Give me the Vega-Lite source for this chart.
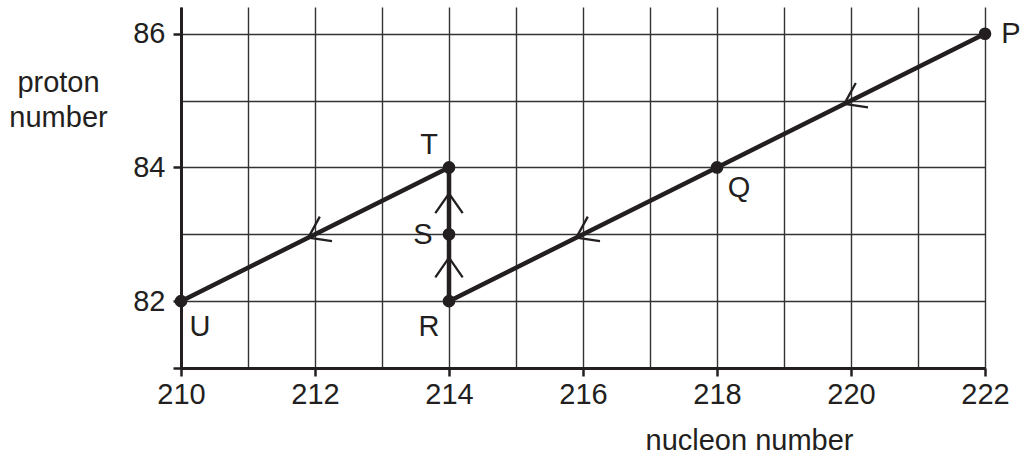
{
  "$schema": "https://vega.github.io/schema/vega-lite/v6.json",
  "width": 804,
  "height": 361,
  "autosize": {"type": "none"},
  "padding": {"left": 181, "top": 7, "right": 36, "bottom": 91},
  "background": "white",
  "config": {"view": {"stroke": null}, "font": "Liberation Sans"},
  "datasets": {
    "path": [
      {"step": 1, "label": "P", "nucleon": 222, "proton": 86},
      {"step": 2, "label": "Q", "nucleon": 218, "proton": 84},
      {"step": 3, "label": "R", "nucleon": 214, "proton": 82},
      {"step": 4, "label": "S", "nucleon": 214, "proton": 83},
      {"step": 5, "label": "T", "nucleon": 214, "proton": 84},
      {"step": 6, "label": "U", "nucleon": 210, "proton": 82}
    ],
    "diag": [
      {"nucleon": 219.9, "proton": 84.95},
      {"nucleon": 215.9, "proton": 82.95},
      {"nucleon": 211.9, "proton": 82.95}
    ],
    "up": [
      {"nucleon": 214, "proton": 82.65},
      {"nucleon": 214, "proton": 83.61}
    ]
  },
  "layer": [
    {
      "data": {"name": "path"},
      "mark": {"type": "line", "color": "#231f20", "strokeWidth": 4.5, "strokeJoin": "round"},
      "encoding": {
        "x": {
          "field": "nucleon", "type": "quantitative",
          "scale": {"domain": [210, 222], "nice": false, "zero": false},
          "axis": {
            "values": [210, 211, 212, 213, 214, 215, 216, 217, 218, 219, 220, 221, 222],
            "format": "d",
            "title": "nucleon number",
            "labelExpr": "datum.value % 2 === 0 ? datum.label : ''",
            "labelFlush": false,
            "labelOverlap": false,
            "grid": true,
            "gridColor": "#333333",
            "gridWidth": 1.4,
            "domainColor": "#231f20",
            "domainWidth": 3,
            "tickColor": {"condition": {"test": "datum.value % 2 === 0", "value": "#231f20"}, "value": "transparent"},
            "tickSize": 8,
            "tickWidth": 2.5,
            "labelFontSize": 29,
            "labelFont": "Liberation Sans",
            "labelColor": "#231f20",
            "labelPadding": 4,
            "titleFont": "Liberation Sans",
            "titleFontSize": 29,
            "titleFontWeight": "normal",
            "titleColor": "#231f20",
            "titleX": 568,
            "titleY": 72,
            "titleAlign": "center",
            "titleBaseline": "middle"
          }
        },
        "y": {
          "field": "proton", "type": "quantitative",
          "scale": {"domain": [81, 86.4], "nice": false, "zero": false},
          "axis": {
            "values": [81, 82, 83, 84, 85, 86],
            "format": "d",
            "title": ["proton", "number"],
            "labelExpr": "datum.value % 2 === 0 ? datum.label : ''",
            "labelFlush": false,
            "labelOverlap": false,
            "grid": true,
            "gridColor": "#333333",
            "gridWidth": 1.4,
            "domainColor": "#231f20",
            "domainWidth": 3,
            "tickColor": {"condition": {"test": "datum.value === 83 || datum.value === 85", "value": "transparent"}, "value": "#231f20"},
            "tickSize": 8,
            "tickWidth": 2.5,
            "labelFontSize": 29,
            "labelFont": "Liberation Sans",
            "labelColor": "#231f20",
            "labelPadding": 8,
            "titleFont": "Liberation Sans",
            "titleFontSize": 29,
            "titleFontWeight": "normal",
            "titleColor": "#231f20",
            "titleAngle": 0,
            "titleX": -123,
            "titleY": 75,
            "titleAlign": "center",
            "titleBaseline": "middle",
            "titleLineHeight": 35
          }
        },
        "order": {"field": "step", "type": "quantitative"}
      }
    },
    {
      "data": {"name": "path"},
      "mark": {"type": "point", "shape": "circle", "filled": true, "size": 160, "color": "#231f20", "opacity": 1},
      "encoding": {
        "x": {"field": "nucleon", "type": "quantitative"},
        "y": {"field": "proton", "type": "quantitative"}
      }
    },
    {
      "data": {"name": "diag"},
      "mark": {"type": "point", "shape": "M 0.82 -0.57 L 0 0 L 0.82 0.57", "size": 2300, "filled": false, "color": "#231f20", "strokeWidth": 2.3, "opacity": 1, "angle": -26.5},
      "encoding": {
        "x": {"field": "nucleon", "type": "quantitative"},
        "y": {"field": "proton", "type": "quantitative"}
      }
    },
    {
      "data": {"name": "up"},
      "mark": {"type": "point", "shape": "M 0.82 -0.57 L 0 0 L 0.82 0.57", "size": 2300, "filled": false, "color": "#231f20", "strokeWidth": 2.3, "opacity": 1, "angle": 90},
      "encoding": {
        "x": {"field": "nucleon", "type": "quantitative"},
        "y": {"field": "proton", "type": "quantitative"}
      }
    },
    {
      "data": {"name": "path"},
      "transform": [{"filter": "datum.label === 'P'"}],
      "mark": {"type": "text", "fontSize": 29, "color": "#231f20", "align": "center", "baseline": "middle", "dx": 26, "dy": 0},
      "encoding": {"x": {"field": "nucleon", "type": "quantitative"}, "y": {"field": "proton", "type": "quantitative"}, "text": {"field": "label"}}
    },
    {
      "data": {"name": "path"},
      "transform": [{"filter": "datum.label === 'Q'"}],
      "mark": {"type": "text", "fontSize": 29, "color": "#231f20", "align": "center", "baseline": "middle", "dx": 22, "dy": 21},
      "encoding": {"x": {"field": "nucleon", "type": "quantitative"}, "y": {"field": "proton", "type": "quantitative"}, "text": {"field": "label"}}
    },
    {
      "data": {"name": "path"},
      "transform": [{"filter": "datum.label === 'U'"}],
      "mark": {"type": "text", "fontSize": 29, "color": "#231f20", "align": "center", "baseline": "middle", "dx": 19, "dy": 26},
      "encoding": {"x": {"field": "nucleon", "type": "quantitative"}, "y": {"field": "proton", "type": "quantitative"}, "text": {"field": "label"}}
    },
    {
      "data": {"name": "path"},
      "transform": [{"filter": "datum.label === 'R'"}],
      "mark": {"type": "text", "fontSize": 29, "color": "#231f20", "align": "center", "baseline": "middle", "dx": -20, "dy": 26},
      "encoding": {"x": {"field": "nucleon", "type": "quantitative"}, "y": {"field": "proton", "type": "quantitative"}, "text": {"field": "label"}}
    },
    {
      "data": {"name": "path"},
      "transform": [{"filter": "datum.label === 'S'"}],
      "mark": {"type": "text", "fontSize": 29, "color": "#231f20", "align": "center", "baseline": "middle", "dx": -26, "dy": 1},
      "encoding": {"x": {"field": "nucleon", "type": "quantitative"}, "y": {"field": "proton", "type": "quantitative"}, "text": {"field": "label"}}
    },
    {
      "data": {"name": "path"},
      "transform": [{"filter": "datum.label === 'T'"}],
      "mark": {"type": "text", "fontSize": 29, "color": "#231f20", "align": "center", "baseline": "middle", "dx": -20, "dy": -22},
      "encoding": {"x": {"field": "nucleon", "type": "quantitative"}, "y": {"field": "proton", "type": "quantitative"}, "text": {"field": "label"}}
    }
  ]
}
